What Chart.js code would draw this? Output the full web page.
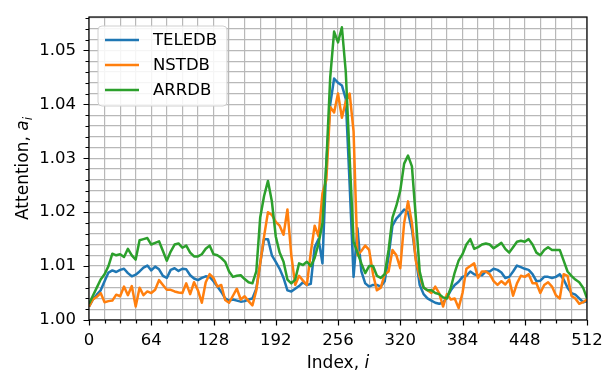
<!DOCTYPE html>
<html>
<head>
<meta charset="utf-8">
<script src="https://cdn.jsdelivr.net/npm/chart.js@4.4.1/dist/chart.umd.min.js"></script>
<style>
  html, body { margin: 0; padding: 0; background: #fff; }
</style>
</head>
<body>
<canvas id="attn" width="602" height="373"></canvas>
<script>
// attention weights sampled every STEP positions, index 0..512
const STEP = 4;

const teledb = [
  1.0025, 1.0038, 1.0047, 1.0055, 1.0072, 1.0088, 1.0092, 1.0089, 1.0093, 1.0095,
  1.0087, 1.0081, 1.0084, 1.0090, 1.0097, 1.0101, 1.0092, 1.0099, 1.0094, 1.0082,
  1.0078, 1.0093, 1.0096, 1.0091, 1.0095, 1.0094, 1.0083, 1.0077, 1.0074, 1.0078,
  1.0081, 1.0080, 1.0072, 1.0062, 1.0052, 1.0040, 1.0036, 1.0038, 1.0036, 1.0034,
  1.0035, 1.0038, 1.0040, 1.0058, 1.0105, 1.0150, 1.0150, 1.0120, 1.0108, 1.0095,
  1.0078, 1.0055, 1.0053, 1.0058, 1.0063, 1.0070, 1.0065, 1.0067, 1.0135, 1.0150,
  1.0105, 1.0290, 1.0400, 1.0448, 1.0440, 1.0435, 1.0410, 1.0250, 1.0080, 1.0170,
  1.0090, 1.0068, 1.0062, 1.0065, 1.0065, 1.0062, 1.0072, 1.0118, 1.0175, 1.0188,
  1.0196, 1.0205, 1.0200, 1.0168, 1.0115, 1.0065, 1.0048, 1.0040, 1.0036, 1.0032,
  1.0030, 1.0032, 1.0042, 1.0055, 1.0065, 1.0071, 1.0080, 1.0082, 1.0090, 1.0085,
  1.0083, 1.0083, 1.0090, 1.0090, 1.0095, 1.0093, 1.0088, 1.0078, 1.0080, 1.0090,
  1.0101, 1.0098, 1.0095, 1.0093, 1.0085, 1.0072, 1.0073, 1.0080, 1.0080, 1.0078,
  1.0080, 1.0085, 1.0075, 1.0060, 1.0050, 1.0047, 1.0040, 1.0033, 1.0035
];

const nstdb = [
  1.0025, 1.0038, 1.0043, 1.0050, 1.0033, 1.0035, 1.0036, 1.0047, 1.0044, 1.0062,
  1.0046, 1.0063, 1.0025, 1.0060, 1.0046, 1.0053, 1.0050, 1.0056, 1.0074, 1.0065,
  1.0056, 1.0056, 1.0053, 1.0051, 1.0050, 1.0068, 1.0048, 1.0070, 1.0055, 1.0032,
  1.0070, 1.0085, 1.0078, 1.0062, 1.0065, 1.0037, 1.0032, 1.0045, 1.0058, 1.0038,
  1.0044, 1.0035, 1.0027, 1.0055, 1.0105, 1.0155, 1.0200, 1.0195, 1.0182, 1.0175,
  1.0158, 1.0205, 1.0120, 1.0065, 1.0082, 1.0073, 1.0065, 1.0125, 1.0175, 1.0155,
  1.0235, 1.0260, 1.0395, 1.0385, 1.0420, 1.0375, 1.0405, 1.0420, 1.0350, 1.0120,
  1.0128, 1.0138, 1.0130, 1.0085, 1.0055, 1.0060, 1.0085, 1.0090, 1.0130, 1.0120,
  1.0096, 1.0180, 1.0220, 1.0180, 1.0110, 1.0080, 1.0060, 1.0055, 1.0050, 1.0062,
  1.0050, 1.0025, 1.0048, 1.0038, 1.0040, 1.0022, 1.0050, 1.0095, 1.0100, 1.0105,
  1.0078, 1.0090, 1.0090, 1.0085, 1.0072, 1.0065, 1.0072, 1.0066, 1.0075, 1.0045,
  1.0068, 1.0082, 1.0080, 1.0085, 1.0068, 1.0068, 1.0050, 1.0065, 1.0070, 1.0062,
  1.0046, 1.0040, 1.0085, 1.0082, 1.0045, 1.0040, 1.0030, 1.0033, 1.0038
];

const arrdb = [
  1.0030, 1.0045, 1.0060, 1.0075, 1.0085, 1.0100, 1.0123, 1.0120, 1.0122, 1.0117,
  1.0132, 1.0120, 1.0112, 1.0148, 1.0150, 1.0152, 1.0140, 1.0143, 1.0146, 1.0128,
  1.0110, 1.0127, 1.0140, 1.0142, 1.0134, 1.0138, 1.0125, 1.0118, 1.0118, 1.0122,
  1.0132, 1.0138, 1.0122, 1.0120, 1.0115, 1.0108, 1.0090, 1.0080, 1.0082, 1.0083,
  1.0076, 1.0070, 1.0068, 1.0090, 1.0190, 1.0230, 1.0258, 1.0220, 1.0155, 1.0125,
  1.0108, 1.0075, 1.0068, 1.0075, 1.0105, 1.0102, 1.0108, 1.0100, 1.0115, 1.0142,
  1.0180, 1.0290, 1.0450, 1.0535, 1.0515, 1.0543, 1.0460, 1.0300, 1.0145, 1.0125,
  1.0105, 1.0087, 1.0100, 1.0100, 1.0082, 1.0078, 1.0085, 1.0130, 1.0190, 1.0212,
  1.0240, 1.0290, 1.0305, 1.0285, 1.0190, 1.0090, 1.0060, 1.0055, 1.0055, 1.0050,
  1.0048, 1.0042, 1.0040, 1.0060, 1.0088, 1.0110, 1.0122, 1.0140, 1.0150, 1.0132,
  1.0135, 1.0140, 1.0142, 1.0140, 1.0133, 1.0138, 1.0143, 1.0132, 1.0125, 1.0135,
  1.0145, 1.0147, 1.0145, 1.0150, 1.0140, 1.0125, 1.0120, 1.0130, 1.0135, 1.0130,
  1.0130, 1.0130, 1.0110, 1.0090, 1.0082, 1.0075, 1.0070, 1.0060, 1.0040
];

const xTickLabels = ['0', '64', '128', '192', '256', '320', '384', '448', '512'];
const yTickLabels = ['1.00', '1.01', '1.02', '1.03', '1.04', '1.05'];

const FONT = "'DejaVu Sans', sans-serif";
const FS = 16.5;

const toPoints = arr => arr.map((v, k) => ({ x: k * STEP, y: v }));

// matplotlib-style frame, ticks, axis titles and legend
const decor = {
  id: 'decor',
  afterDatasetsDraw(chart) {
    const { ctx, chartArea: a, scales } = chart;
    ctx.save();
    ctx.strokeStyle = '#000';
    ctx.lineWidth = 1.2;
    // tick marks, long on labelled values
    ctx.beginPath();
    scales.x.ticks.forEach(t => {
      const px = Math.round(scales.x.getPixelForValue(t.value)) + 0.5;
      const len = t.value % 64 === 0 ? 5.5 : 3.5;
      ctx.moveTo(px, a.bottom);
      ctx.lineTo(px, a.bottom + len);
    });
    scales.y.ticks.forEach(t => {
      const py = Math.round(scales.y.getPixelForValue(t.value)) + 0.5;
      const major = Math.round(t.value * 1000) % 10 === 0;
      ctx.moveTo(a.left, py);
      ctx.lineTo(a.left - (major ? 5.5 : 3.5), py);
    });
    ctx.stroke();
    ctx.strokeRect(a.left, a.top, a.right - a.left, a.bottom - a.top);
    ctx.restore();
  },
  afterDraw(chart) {
    const { ctx, chartArea: a } = chart;
    ctx.save();
    ctx.fillStyle = '#000';
    ctx.textBaseline = 'alphabetic';

    // x title: Index, i
    const xs1 = 'Index, ';
    ctx.font = `${FS + 0.5}px ${FONT}`;
    const w1 = ctx.measureText(xs1).width;
    ctx.font = `italic ${FS + 0.5}px ${FONT}`;
    const w2 = ctx.measureText('i').width;
    let x0 = (a.left + a.right) / 2 - (w1 + w2) / 2;
    ctx.font = `${FS + 0.5}px ${FONT}`;
    ctx.fillText(xs1, x0, 368);
    ctx.font = `italic ${FS + 0.5}px ${FONT}`;
    ctx.fillText('i', x0 + w1, 368);

    // y title: Attention, a_i
    ctx.save();
    ctx.translate(28, (a.top + a.bottom) / 2);
    ctx.rotate(-Math.PI / 2);
    const ys1 = 'Attention, ';
    ctx.font = `${FS + 0.5}px ${FONT}`;
    const v1 = ctx.measureText(ys1).width;
    ctx.font = `italic ${FS + 0.5}px ${FONT}`;
    const v2 = ctx.measureText('a').width;
    ctx.font = `italic ${(FS + 0.5) * 0.7}px ${FONT}`;
    const v3 = ctx.measureText('i').width;
    let y0 = -(v1 + v2 + v3) / 2;
    ctx.font = `${FS + 0.5}px ${FONT}`;
    ctx.fillText(ys1, y0, 0);
    ctx.font = `italic ${FS + 0.5}px ${FONT}`;
    ctx.fillText('a', y0 + v1, 0);
    ctx.font = `italic ${(FS + 0.5) * 0.7}px ${FONT}`;
    ctx.fillText('i', y0 + v1 + v2, 4);
    ctx.restore();

    // legend box
    const bx = a.left + 9, by = a.top + 9, bw = 129, bh = 80, r = 4;
    ctx.beginPath();
    ctx.moveTo(bx + r, by);
    ctx.arcTo(bx + bw, by, bx + bw, by + bh, r);
    ctx.arcTo(bx + bw, by + bh, bx, by + bh, r);
    ctx.arcTo(bx, by + bh, bx, by, r);
    ctx.arcTo(bx, by, bx + bw, by, r);
    ctx.closePath();
    ctx.fillStyle = 'rgba(255,255,255,0.85)';
    ctx.fill();
    ctx.strokeStyle = '#d0d0d0';
    ctx.lineWidth = 1;
    ctx.stroke();

    ctx.font = `${FS}px ${FONT}`;
    ctx.textBaseline = 'middle';
    chart.data.datasets.forEach((ds, k) => {
      const ly = by + 14 + k * 25;
      ctx.strokeStyle = ds.borderColor;
      ctx.lineWidth = 2.5;
      ctx.beginPath();
      ctx.moveTo(bx + 7, ly);
      ctx.lineTo(bx + 41, ly);
      ctx.stroke();
      ctx.fillStyle = '#000';
      ctx.fillText(ds.label, bx + 55, ly + 1);
    });
    ctx.restore();
  }
};

const gridOpts = { color: '#b8b8b8', lineWidth: 1.2, drawTicks: false };

new Chart(document.getElementById('attn'), {
  type: 'line',
  data: {
    datasets: [
      { label: 'TELEDB', data: toPoints(teledb), borderColor: '#1f77b4', order: 3 },
      { label: 'NSTDB', data: toPoints(nstdb), borderColor: '#ff7f0e', order: 2 },
      { label: 'ARRDB', data: toPoints(arrdb), borderColor: '#2ca02c', order: 1 }
    ]
  },
  options: {
    responsive: false,
    animation: false,
    layout: { padding: { left: 0, top: 17, right: 15, bottom: 0 } },
    elements: {
      point: { radius: 0 },
      line: { borderWidth: 2.5, tension: 0, fill: false, borderJoinStyle: 'round' }
    },
    plugins: { legend: { display: false }, tooltip: { enabled: false } },
    scales: {
      x: {
        type: 'linear',
        min: 0,
        max: 512,
        afterFit: s => { s.height = 53; s.paddingLeft = 0; s.paddingRight = 0; },
        grid: gridOpts,
        border: { display: false },
        ticks: {
          stepSize: 16,
          autoSkip: false,
          maxRotation: 0,
          includeBounds: false,
          padding: 11,
          color: '#000',
          font: { family: FONT, size: FS },
          callback: v => xTickLabels.includes(String(v)) ? String(v) : ''
        }
      },
      y: {
        type: 'linear',
        min: 1.0,
        max: 1.0562,
        afterFit: s => { s.width = 89; s.paddingTop = 0; s.paddingBottom = 0; },
        grid: gridOpts,
        border: { display: false },
        ticks: {
          stepSize: 0.002,
          autoSkip: false,
          includeBounds: false,
          padding: 13,
          color: '#000',
          font: { family: FONT, size: FS },
          callback: v => {
            const s = v.toFixed(2);
            return Math.abs(v - parseFloat(s)) < 1e-7 && yTickLabels.includes(s) ? s : '';
          }
        }
      }
    }
  },
  plugins: [decor]
});
</script>
</body>
</html>
